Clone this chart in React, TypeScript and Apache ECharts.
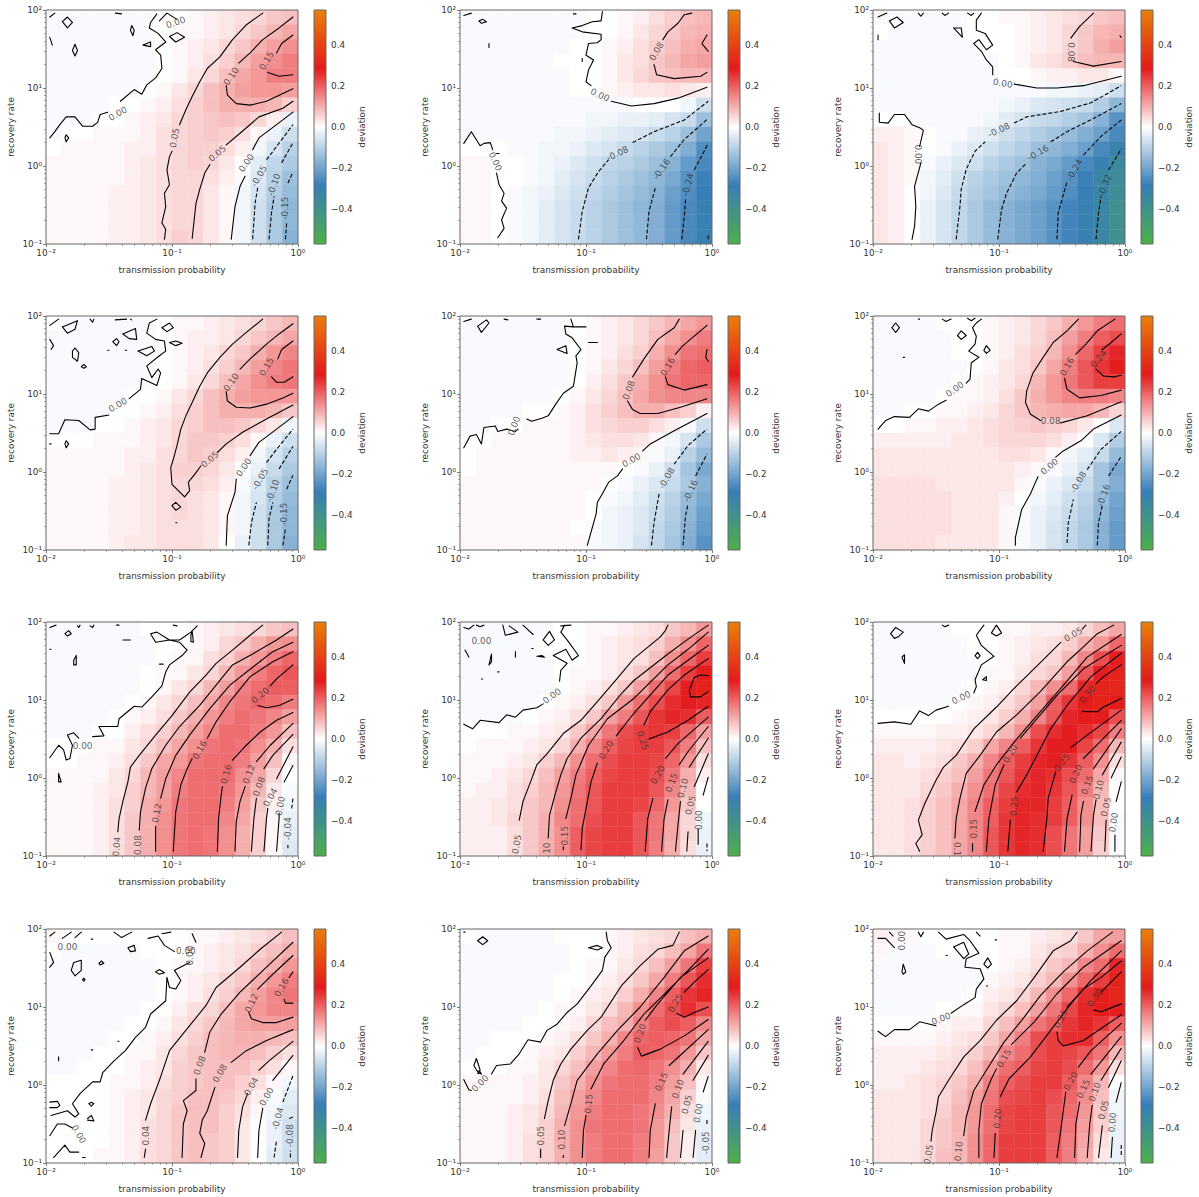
import React, { useEffect, useRef } from "react";
import * as echarts from "echarts";

// Values. Heat values are deviation in hundredths, rows from top (high recovery) to bottom.
// Contours and label anchors are log10(value) x 100 : [log10 p x100, log10 r x100, ...].
const heat1 = [
[-1,-1,-1,-1,-1,-1,-1,0,0,1,2,3,4,5,7,8],[-1,-1,-1,-1,-1,-1,-1,0,1,1,2,3,5,7,9,11],[-1,-1,-1,-1,-1,-1,-1,0,1,2,3,5,7,10,12,14],[-1,-1,-1,-1,-1,-1,-1,0,1,2,4,6,9,12,14,16],
[-1,-1,-1,-1,-1,-1,-1,0,1,3,5,8,11,13,16,16],[-1,-1,-1,-1,-1,-1,0,1,3,5,8,10,12,13,13,12],[-1,-1,-1,-1,0,0,1,2,4,6,8,10,10,10,9,6],[-1,-1,-1,0,0,1,2,3,5,6,7,8,7,5,2,-3],
[-1,0,0,1,1,1,2,4,5,6,7,6,4,1,-3,-7],[0,1,1,1,1,2,2,4,5,6,6,4,2,-2,-6,-10],[1,1,1,1,1,2,3,4,5,6,5,3,0,-4,-9,-12],[1,1,1,1,1,2,3,4,5,5,4,2,-1,-5,-10,-14],
[1,1,1,1,2,2,3,4,5,5,3,1,-2,-6,-11,-15],[1,1,1,1,2,2,3,4,5,5,3,1,-2,-7,-12,-16],[1,1,1,1,2,2,3,4,5,5,3,1,-2,-7,-12,-16],[1,1,1,1,2,2,3,4,6,5,3,1,-2,-7,-12,-17]];
const heat2 = [
[-1,-1,-1,-1,-1,-1,-1,-1,0,0,1,2,4,6,8,9],[-1,-1,-1,-1,-1,-1,-1,-1,0,0,1,3,5,7,9,10],[-1,-1,-1,-1,-1,-1,-1,0,0,1,2,4,6,8,10,11],[-1,-1,-1,-1,-1,-1,0,0,0,1,3,4,7,9,11,12],
[-1,-1,-1,-1,-1,-1,-1,0,0,1,3,5,7,8,9,9],[-1,-1,-1,-1,-1,-1,-1,0,0,1,2,3,3,4,3,2],[-1,-1,-1,-1,-1,-1,-1,-1,-1,-1,-1,0,0,0,-2,-7],[-1,-1,-1,-1,-1,-1,-1,-1,-2,-2,-3,-3,-4,-6,-8,-14],
[-1,-1,-1,-1,-1,-1,-2,-2,-3,-4,-5,-6,-8,-10,-14,-20],[0,0,0,-1,-1,-2,-2,-3,-5,-6,-8,-10,-12,-14,-18,-25],[1,1,0,0,-1,-2,-3,-5,-7,-9,-10,-12,-14,-17,-22,-26],[1,1,0,0,-1,-2,-4,-6,-8,-10,-12,-14,-16,-19,-24,-28],
[1,1,0,-1,-2,-3,-5,-7,-9,-11,-13,-15,-17,-21,-25,-29],[1,1,0,-1,-2,-4,-6,-8,-10,-12,-14,-16,-18,-22,-26,-30],[1,1,0,-1,-2,-4,-6,-8,-10,-12,-14,-16,-18,-22,-26,-30],[1,1,0,-1,-2,-4,-6,-8,-10,-12,-14,-16,-18,-22,-26,-30]];
const heat3 = [
[1,-1,-1,-1,-1,-1,0,0,1,1,2,3,4,5,7,8],[0,-1,-1,-1,-1,-1,0,0,0,1,2,3,5,7,9,10],[-1,-1,-1,-1,-1,-1,-1,0,0,1,2,3,5,7,10,12],[-1,-1,-1,-1,-1,-1,-1,-1,0,1,3,4,6,8,9,9],
[-1,-1,-1,-1,-1,-1,-1,-1,0,0,1,2,2,3,3,1],[-1,-1,-1,-1,-1,-1,-1,-1,-1,-1,-1,-2,-2,-3,-4,-7],[-1,-1,-1,-1,-1,-1,-1,-1,-2,-3,-5,-6,-7,-8,-11,-16],[0,0,-1,-1,-1,-1,-1,-2,-4,-6,-8,-9,-11,-13,-17,-24],
[2,2,1,0,-1,-1,-3,-4,-7,-9,-11,-13,-15,-18,-21,-26],[3,2,1,0,-1,-3,-5,-7,-9,-11,-14,-16,-18,-21,-26,-31],[3,2,1,-1,-3,-5,-7,-10,-12,-14,-17,-19,-22,-26,-30,-35],[3,2,1,-2,-4,-7,-10,-12,-14,-16,-18,-21,-24,-28,-33,-36],
[3,2,0,-2,-5,-8,-11,-13,-15,-17,-19,-22,-25,-29,-33,-37],[3,2,0,-3,-6,-9,-12,-15,-17,-19,-21,-24,-27,-30,-34,-39],[3,2,0,-3,-6,-9,-12,-15,-17,-19,-21,-24,-27,-30,-34,-39],[3,2,0,-3,-6,-9,-12,-15,-17,-19,-21,-24,-27,-30,-34,-39]];
const heat4 = [
[0,-1,-1,-1,-1,-1,-1,0,1,1,2,3,4,5,7,9],[-1,-1,-1,-1,-1,-1,-1,0,1,2,2,3,5,7,9,11],[-1,-1,-1,-1,-1,-1,-1,0,1,2,3,5,7,10,13,15],[-1,-1,-1,-1,-1,-1,-1,0,1,2,4,6,9,12,15,17],
[-1,-1,-1,-1,-1,-1,-1,0,1,3,5,8,11,14,16,17],[-1,-1,-1,-1,-1,0,0,1,3,5,8,10,12,13,13,13],[-1,-1,-1,-1,0,0,1,2,4,6,8,10,10,10,9,7],[-1,-1,-1,0,0,1,2,3,5,6,8,8,7,5,3,-2],
[0,0,0,1,1,1,2,3,5,7,7,6,4,1,-3,-7],[1,1,1,1,1,2,2,4,5,7,6,4,2,-2,-6,-10],[1,1,1,1,1,2,3,4,6,6,5,3,0,-3,-8,-12],[1,1,1,1,2,2,3,4,5,5,4,2,-1,-5,-10,-14],
[1,1,1,1,2,2,3,4,5,4,3,1,-2,-6,-11,-15],[1,1,1,1,2,2,3,4,5,4,3,1,-2,-7,-12,-16],[1,1,1,1,2,2,3,4,4,4,3,1,-2,-7,-12,-16],[1,1,1,1,2,3,3,4,4,4,3,0,-3,-7,-12,-17]];
const heat5 = [
[-1,-1,-1,-1,-1,-1,-1,0,1,2,3,5,7,9,11,13],[-1,-1,-1,-1,-1,-1,-1,0,1,2,3,5,8,11,14,16],[-1,-1,-1,-1,-1,-1,-1,0,1,2,4,6,10,14,17,18],[-1,-1,-1,-1,-1,-1,-1,0,1,3,5,8,12,16,19,20],
[-1,-1,-1,-1,-1,-1,-1,0,2,4,7,10,14,17,19,19],[-1,-1,-1,-1,-1,-1,0,1,3,5,8,11,14,15,15,15],[-1,-1,-1,-1,0,0,1,2,4,6,8,10,10,8,6,2],[-1,-1,0,0,1,1,1,2,4,5,6,6,4,2,-1,-7],
[0,0,1,1,1,1,1,2,3,4,4,3,1,-2,-6,-12],[0,1,1,1,1,1,1,2,2,3,2,1,-1,-3,-10,-15],[0,1,1,1,1,1,1,1,1,1,0,-1,-3,-7,-13,-19],[1,1,1,1,1,1,1,1,1,0,-1,-3,-5,-8,-12,-17],
[1,1,1,1,1,1,1,1,0,-1,-2,-4,-7,-10,-15,-19],[1,1,1,1,1,1,1,1,0,-2,-3,-5,-8,-11,-16,-21],[1,1,1,1,1,1,1,0,-1,-2,-3,-5,-9,-12,-17,-22],[1,1,1,1,1,1,1,1,-1,-2,-3,-6,-9,-13,-18,-24]];
const heat6 = [
[-1,-1,-1,-1,0,0,0,1,2,3,5,7,10,13,16,18],[-1,-1,-1,-1,-1,0,0,1,2,3,5,8,12,16,20,22],[-1,-1,-1,-1,-1,0,0,1,2,4,6,9,14,19,24,27],[-1,-1,-1,-1,-1,-1,0,1,3,4,7,11,16,21,25,28],
[-1,-1,-1,-1,-1,0,1,2,3,5,9,13,17,21,24,24],[-1,-1,-1,-1,0,1,1,2,4,7,10,13,15,16,16,15],[-1,-1,0,0,1,1,2,3,5,7,9,10,11,11,9,5],[0,0,1,1,2,2,3,4,5,6,7,6,5,3,0,-5],
[2,2,2,2,2,3,3,4,5,5,5,4,2,0,-5,-11],[3,3,3,3,3,3,3,3,4,4,3,1,-2,-4,-8,-15],[3,3,3,3,3,3,3,3,3,2,1,-1,-3,-6,-13,-19],[4,4,4,4,3,3,3,3,3,1,-1,-3,-5,-8,-13,-18],
[4,4,4,4,4,3,3,3,2,0,-2,-4,-7,-10,-15,-20],[4,4,4,4,4,3,3,3,1,-1,-3,-5,-8,-11,-16,-21],[4,4,4,4,4,3,3,3,1,-1,-3,-6,-9,-12,-17,-22],[4,4,4,4,3,3,3,3,1,-1,-3,-6,-9,-12,-17,-22]];
const heat7 = [
[-1,-1,-1,-1,-1,-1,0,0,0,1,2,3,4,5,7,8],[-1,-1,-1,-1,-1,-1,-1,0,0,1,2,5,7,10,13,14],[-1,-1,-1,-1,-1,-1,-1,0,1,1,4,6,10,13,16,19],[-1,-1,-1,-1,-1,-1,0,1,1,3,5,9,13,16,19,21],
[-1,-1,-1,-1,-1,-1,0,1,3,5,9,12,16,18,20,20],[-1,-1,-1,-1,-1,0,1,3,5,8,11,15,17,19,18,16],[-1,-1,-1,-1,0,1,2,4,7,10,13,16,18,17,15,12],[-1,-1,-1,0,0,2,4,6,9,12,15,18,18,16,13,8],
[0,0,0,1,1,3,5,8,11,14,17,18,17,14,10,4],[0,0,1,1,2,4,7,11,13,17,18,18,16,12,8,1],[1,1,1,1,3,5,9,12,15,18,18,18,14,11,5,0],[1,1,1,2,3,6,9,12,16,18,18,17,13,9,3,-1],
[1,1,1,2,4,6,10,13,17,18,18,16,12,7,2,-2],[1,1,1,2,4,7,10,14,17,18,18,15,11,6,1,-3],[1,1,1,2,4,7,10,14,17,18,17,14,10,6,1,-4],[1,1,1,2,4,7,10,14,17,18,17,14,10,6,1,-5]];
const heat8 = [
[-1,-1,-1,-1,-1,-1,0,0,1,1,2,3,4,7,9,13],[-1,-1,-1,-1,-1,0,0,0,1,2,3,4,6,10,14,19],[-1,-1,-1,-1,-1,-1,0,0,1,2,3,4,8,14,19,24],[-1,-1,-1,-1,-1,-1,0,1,1,2,4,7,12,18,24,29],
[-1,-1,-1,-1,-1,-1,0,1,2,4,7,12,18,23,28,31],[-1,-1,-1,-1,-1,0,1,2,4,7,13,18,22,26,28,27],[-1,-1,-1,-1,0,1,2,4,7,12,16,21,25,27,26,20],[0,0,0,1,1,2,3,7,11,17,22,24,25,24,19,12],
[0,1,1,1,2,3,5,10,15,20,23,24,24,21,16,8],[1,1,1,2,3,6,9,14,18,22,24,24,23,19,13,4],[1,1,2,3,5,8,12,16,20,23,24,24,22,17,10,2],[1,2,2,4,6,9,13,17,21,24,24,24,21,15,9,0],
[2,2,3,4,7,9,14,18,21,24,24,23,19,13,7,0],[2,2,3,5,7,10,15,18,22,24,24,21,17,11,5,-2],[2,2,2,4,7,10,14,20,23,24,24,21,17,11,5,-3],[2,2,2,4,7,10,14,20,23,24,24,21,16,10,4,-3]];
const heat9 = [
[-1,-1,-1,-1,-1,0,0,0,1,1,2,2,3,5,8,11],[-1,-1,-1,-1,-1,-1,0,0,1,2,3,4,6,10,13,19],[-1,-1,-1,-1,-1,-1,-1,0,1,2,4,5,9,15,22,28],[-1,-1,-1,-1,-1,-1,-1,1,1,3,5,7,12,21,28,31],
[-1,-1,-1,-1,-1,-1,0,1,2,5,9,14,18,27,31,32],[-1,-1,-1,-1,-1,0,1,2,4,7,12,20,25,29,31,29],[0,0,0,0,0,1,2,3,6,10,15,21,27,29,28,22],[1,1,1,1,2,2,3,5,9,14,22,26,28,26,23,16],
[2,2,2,2,3,4,6,11,15,20,25,28,28,23,18,9],[3,3,2,3,4,7,10,15,20,24,27,28,25,20,14,4],[3,3,3,4,6,8,12,17,21,25,27,26,22,18,11,1],[3,3,3,5,7,10,14,18,23,26,27,25,21,16,9,0],
[3,3,4,6,8,11,15,20,24,27,27,24,20,14,8,0],[3,3,4,6,8,11,15,20,25,27,26,24,20,14,8,-1],[3,3,4,6,8,11,15,21,25,27,26,22,17,12,7,-1],[3,3,4,6,8,11,15,21,25,27,26,22,17,12,6,-1]];
const heat10 = [
[1,0,0,0,0,0,0,0,0,1,1,2,3,4,6,8],[0,-1,-1,-1,-1,-1,0,0,0,1,2,3,4,6,8,10],[-1,-1,-1,-1,-1,-1,-1,0,1,1,2,3,5,8,10,13],[-1,-1,-1,-1,-1,-1,-1,0,1,2,3,5,7,10,13,16],
[-1,-1,-1,-1,-1,-1,-1,0,1,2,4,6,9,12,15,17],[-1,-1,-1,-1,-1,-1,0,0,2,4,5,8,11,13,15,15],[-1,-1,-1,-1,-1,0,0,1,3,5,7,9,11,12,12,12],[-1,-1,-1,-1,0,0,1,2,4,6,8,9,10,10,9,8],
[-1,-1,-1,0,0,1,1,3,5,7,8,9,9,8,6,4],[-1,-1,0,0,0,1,2,3,6,7,8,8,8,6,4,1],[0,0,0,0,1,1,2,4,6,7,8,8,6,4,1,-2],[0,0,0,0,1,2,3,5,6,8,8,7,5,2,-1,-4],
[0,0,0,0,1,2,3,5,7,8,8,6,4,1,-2,-5],[0,0,0,0,1,2,4,5,7,8,8,6,3,0,-3,-7],[0,0,0,0,1,2,4,5,7,8,7,6,3,0,-3,-7],[0,0,0,1,1,2,4,5,7,8,7,6,3,0,-4,-7]];
const heat11 = [
[0,-1,-1,-1,-1,-1,0,0,0,1,2,3,4,5,8,10],[-1,-1,-1,-1,-1,-1,-1,0,0,1,2,4,5,8,11,17],[-1,-1,-1,-1,-1,-1,-1,0,1,1,3,5,8,12,17,24],[-1,-1,-1,-1,-1,-1,0,0,1,2,4,7,11,16,21,26],
[-1,-1,-1,-1,-1,-1,0,1,2,3,6,10,15,20,25,27],[-1,-1,-1,-1,-1,0,1,1,3,5,9,14,18,22,26,22],[-1,-1,-1,-1,0,0,1,2,5,8,10,16,20,22,20,15],[-1,-1,0,0,0,1,2,4,7,10,15,19,20,19,17,11],
[-1,0,0,0,1,2,3,6,9,13,16,20,19,17,13,7],[0,0,0,1,1,3,5,8,12,15,18,19,17,14,10,3],[1,1,1,1,2,3,7,10,14,17,18,18,16,12,8,1],[1,1,1,1,2,4,8,12,15,18,18,18,15,11,6,-1],
[1,1,1,2,3,5,9,13,16,18,18,17,14,10,4,-2],[1,1,1,2,3,6,10,14,17,18,18,17,13,8,3,-3],[1,1,1,2,4,6,10,14,16,18,18,16,13,7,2,-4],[1,1,1,2,4,6,10,14,16,18,18,16,12,7,2,-4]];
const heat12 = [
[2,1,1,0,0,0,0,0,1,1,2,3,4,7,11,12],[1,-1,-1,-1,0,0,0,0,1,1,3,5,6,10,14,18],[-1,-1,-1,-1,-1,-1,-1,0,1,2,4,7,9,15,18,27],[-1,-1,-1,-1,-1,-1,-1,1,2,3,6,9,14,19,24,31],
[-1,-1,-1,-1,-1,-1,0,2,3,5,9,14,19,26,30,32],[-1,-1,-1,-1,0,1,1,3,5,8,12,17,23,27,30,28],[0,0,0,0,1,2,2,5,8,12,17,20,25,27,25,20],[1,1,1,1,2,3,4,7,11,16,22,24,26,26,20,14],
[2,2,2,2,3,4,6,9,15,18,22,24,23,21,17,9],[2,2,2,3,4,5,8,13,18,20,23,24,22,18,13,4],[2,2,3,4,5,7,10,16,20,22,24,24,20,15,9,0],[3,3,3,4,5,8,12,17,22,23,24,22,19,14,8,-2],
[3,3,3,4,6,9,13,18,23,24,24,21,18,13,7,-2],[3,3,3,5,7,9,13,18,23,24,24,21,17,12,6,-3],[3,3,3,5,7,9,14,19,24,24,24,20,16,11,4,-3],[3,3,3,5,8,9,14,19,24,24,24,20,16,10,3,-3]];

const solid1 = [
[-197,36,-193,44,-189,53,-184,63,-177,63,-171,51,-163,51,-159,56,-157,66,-151,69],
[-141,83,-130,98,-124,92,-120,104,-113,113,-108,125,-109,142,-113,149,-105,159,-111,170,-118,177,-117,184,-112,195],
[-110,186,-104,196,-96,188],[-102,166,-96,171,-90,165,-97,159,-102,166],[-187,185,-183,191,-179,184,-183,177,-187,185],
[-197,191,-193,196],[-145,196,-140,195],[-197,165,-195,155],[-132,180,-130,174,-131,167,-133,174,-132,180],[-123,155,-117,159,-117,153,-123,155],
[-177,156,-175,148,-177,141,-179,148,-177,156],[-184,40,-182,36,-184,31,-185,36,-184,40],
[-106,-94,-105,-81,-108,-73,-105,-52,-106,-35,-102,-24,-104,-5,-102,12,-100,19],[-94,53,-89,72,-84,89,-78,108,-72,125,-62,140,-52,162,-41,181,-28,196],
[-84,-93,-81,-48,-78,-30,-74,-9,-70,2],[-57,27,-46,42,-31,63,-12,74,-4,83],
[-57,103,-56,91,-49,80,-38,78,-25,83,-12,93,-4,99],[-47,132,-38,145,-28,162,-15,177,-4,191],
[-17,145,-13,157,-4,168],[-24,120,-15,115,-4,117],[-53,-94,-50,-52,-46,-26,-42,-13],[-36,21,-31,36,-17,53,-4,69]];
const dashed1 = [[-36,-94,-34,-47,-32,-28],[-25,8,-17,25,-4,53],[-23,-94,-21,-60,-19,-39],[-13,4,-4,30],[-10,-94,-9,-73],[-8,-22,-4,-8]];
const labels1 = [[-143,67,30,"0.00"],[-97,184,18,"0.00"],[-98,36,80,"0.05"],[-64,16,40,"0.05"],[-53,115,55,"0.10"],[-25,135,60,"0.15"],[-41,4,55,"0.00"],[-31,-13,60,"-0.05"],[-19,-24,70,"-0.10"],[-10,-54,90,"-0.15"]];

const solid2 = [
[-197,29,-191,44,-184,26,-181,29,-176,30,-174,21],[-171,-9,-169,-24,-165,-35,-167,-45,-163,-54,-167,-69,-165,-80,-170,-92],[-171,16,-169,16],
[-197,193,-191,196],[-185,186,-182,188,-179,185,-183,183,-185,186],[-177,157,-177,152],[-110,195,-108,195],[-103,138,-103,134],
[-87,198,-88,186,-95,185,-103,180,-111,177,-103,172,-88,169,-88,162,-91,158,-98,157,-100,142,-94,136,-98,123,-100,108,-96,103],
[-80,83,-64,77,-46,80,-27,87,-4,101],[-46,130,-44,117,-30,112,-9,115,-4,120],[-39,162,-35,172,-27,183,-22,194,-16,196],[-4,168,-8,157,-3,147]];
const dashed2 = [[-106,-94,-103,-58,-98,-28,-90,-7,-82,8],[-63,30,-46,44,-22,59,-3,83],[-52,-94,-50,-58,-45,-28],[-33,12,-22,34,-3,61],[-24,-94,-22,-65,-21,-43],[-14,-5,-3,29],[-3,-89,-3,-94]];
const labels2 = [[-172,6,-65,"0.00"],[-89,91,-25,"0.00"],[-44,147,60,"0.08"],[-75,16,25,"-0.08"],[-40,-4,55,"-0.16"],[-19,-24,75,"-0.24"]];

const solid3 = [
[-196,191,-189,196],[-187,186,-181,191,-176,184,-183,177,-187,186],[-164,196,-162,192,-160,196],[-145,196,-143,193,-140,196],[-125,196,-122,193,-120,196],[-196,168,-196,162],[-136,177,-130,177,-129,165,-136,177],
[-114,196,-118,187,-118,174,-111,170,-105,155,-110,149,-116,162,-120,157,-114,147,-110,136,-105,127,-105,117],
[-88,105,-70,100,-54,100,-33,103,-3,115],
[-195,68,-195,56,-188,55,-183,66,-175,66,-169,53,-163,49,-160,46,-163,25],[-162,4,-167,-26,-166,-52,-167,-77,-169,-94],
[-43,164,-36,179,-25,196],[-41,134,-25,128,-3,134],[-4,167,-3,165]];
const dashed3 = [[-134,-94,-131,-52,-130,-30,-126,-4,-119,19,-111,31],[-88,55,-78,63,-51,70,-27,81,-3,103],[-101,-94,-98,-56,-94,-35,-86,-9,-78,4],[-59,31,-46,44,-25,61,-3,80],[-54,-94,-53,-60,-49,-37,-46,-20],[-33,14,-19,38,-3,59],[-23,-94,-21,-60,-19,-39],[-13,-5,-3,22]];
const labels3 = [[-97,106,-10,"0.00"],[-164,15,-90,"0.00"],[-43,146,-90,"0.08"],[-100,46,25,"-0.08"],[-69,17,30,"-0.16"],[-40,-5,60,"-0.24"],[-16,-25,70,"-0.32"]];

const solid4 = [
[-197,188,-190,196],[-187,186,-175,194,-177,183,-183,178,-187,186],[-165,196,-163,192,-162,196],[-145,195,-136,196],[-133,196,-132,195],
[-108,185,-102,191,-99,185,-104,180,-108,185],[-139,177,-129,184,-128,170,-134,171,-139,177],[-147,167,-144,171,-142,167,-144,162,-147,167],[-102,166,-97,168,-92,165,-97,162,-102,166],[-197,170,-194,162,-196,157],
[-177,159,-174,153,-175,142,-179,147,-179,155,-177,159],[-172,135,-170,138,-168,135,-170,133,-172,135],[-127,155,-116,161,-114,155,-120,149,-127,155],[-151,156,-150,156],[-137,156,-136,156],[-184,40,-182,36,-184,31,-185,36,-184,40],[-197,36,-196,36],
[-197,49,-190,49,-185,67,-174,66,-165,54,-161,55,-161,70,-150,73],
[-134,94,-125,106,-124,120,-112,111,-109,127,-111,132,-116,121,-120,136,-110,149,-105,155,-106,168,-113,170,-120,178,-118,191,-112,196],
[-4,86,-25,68,-44,51,-57,36,-64,25],[-77,8,-82,-3,-87,-13,-86,-24,-90,-32,-100,-16,-101,6,-99,16,-96,34,-93,55,-89,72,-84,89,-78,110,-72,127,-62,147,-52,164,-41,179,-28,196],
[-100,-43,-97,-39,-93,-45,-97,-49,-100,-43],[-97,-65,-96,-65],
[-57,103,-56,91,-49,83,-38,82,-25,87,-12,95,-4,101],[-46,132,-38,145,-25,164,-15,177,-4,190],[-16,145,-13,157,-4,168],[-21,122,-17,115,-11,115,-4,122],
[-57,-94,-56,-56,-50,-26,-49,-9],[-38,21,-31,38,-17,55,-4,71]];
const dashed4 = [[-39,-94,-37,-65,-33,-39],[-25,12,-17,29,-4,55],[-24,-94,-23,-60,-20,-39],[-15,4,-4,33],[-12,-94,-10,-73],[-9,-22,-4,-4]];
const labels4 = [[-143,86,30,"0.00"],[-70,16,40,"0.05"],[-53,115,55,"0.10"],[-25,135,60,"0.15"],[-43,6,55,"0.00"],[-30,-9,60,"-0.05"],[-20,-24,70,"-0.10"],[-11,-54,90,"-0.15"]];

const solid5 = [
[-197,193,-191,196],[-186,187,-179,195,-177,191,-183,179,-186,187],[-165,196,-162,195],[-139,196,-136,196],
[-197,31,-192,46,-187,48,-183,36,-181,57,-172,59,-170,52,-163,55,-156,52,-154,55],
[-147,68,-143,65,-135,69,-130,72,-124,87,-118,101,-110,110,-107,140,-108,149,-104,157,-111,172,-116,177,-117,187,-110,186,-100,186],
[-112,196,-110,186],[-98,166,-91,166],[-123,157,-116,162,-115,152,-123,157],
[-99,-94,-96,-77,-92,-54,-91,-39,-87,-28,-82,-13,-75,-5,-71,4],[-55,27,-49,36,-30,53,-4,75],
[-67,91,-63,80,-57,75,-43,75,-25,83,-4,94],[-63,122,-54,145,-43,170,-30,185,-26,196],[-29,151,-23,162,-4,188],[-37,122,-35,112,-22,105,-4,112],[-4,157,-5,147,-3,142]];
const dashed5 = [[-48,-94,-46,-65,-42,-28],[-30,10,-19,34,-4,55],[-23,-94,-21,-56,-19,-41],[-13,-5,-4,23]];
const labels5 = [[-157,59,70,"0.00"],[-64,15,30,"0.00"],[-66,105,70,"0.08"],[-35,135,60,"0.16"],[-36,-8,60,"-0.08"],[-17,-24,65,"-0.16"]];

const solid6 = [
[-185,185,-182,191,-179,185,-182,179,-185,185],[-164,196,-163,196],[-145,196,-142,193,-138,196],[-125,197,-122,194,-119,197],[-133,175,-130,181,-126,175,-130,170,-133,175],[-112,156,-110,162,-107,156,-110,152,-112,156],[-176,147,-175,147],
[-196,55,-190,66,-183,71,-171,70,-164,81,-156,78,-148,87,-142,92],[-126,114,-123,119,-122,140,-116,147,-124,155,-119,164,-118,174,-121,185,-118,191,-114,196],
[-87,-94,-87,-84,-82,-48,-75,-28,-71,-13,-69,-6],[-55,19,-49,27,-35,40,-25,55,-3,73],
[-67,66,-75,74,-79,89,-78,104,-73,127,-65,147,-57,166,-46,181,-37,196],[-51,63,-30,72,-3,90],
[-48,120,-46,106,-36,95,-19,98,-3,105],[-39,151,-31,164,-22,181,-8,196],[-23,132,-17,123,-9,122,-3,124],[-18,157,-11,166,-3,177]];
const dashed6 = [[-46,-91,-45,-65,-41,-35],[-30,3,-19,29,-3,52],[-22,-94,-21,-65,-18,-43],[-13,-5,-3,20]];
const labels6 = [[-135,106,35,"0.00"],[-60,7,40,"0.00"],[-59,66,0,"0.08"],[-46,135,60,"0.16"],[-21,145,50,"0.24"],[-37,-13,60,"-0.08"],[-17,-30,70,"-0.16"]];

const solid7 = [
[-197,193,-192,196],[-175,195,-174,193,-173,196],[-165,195,-163,193,-162,196],[-144,196,-142,196],[-99,196,-96,195],[-185,185,-182,189,-180,185,-183,182,-185,185],[-139,177,-133,177],[-197,165,-196,165],[-178,151,-176,157,-176,145,-178,145,-178,151],[-110,146,-107,146],[-190,-5,-190,6,-188,-5,-190,-5],
[-197,26,-190,42,-186,36,-184,23,-181,25,-179,42,-183,55,-178,58,-174,51],
[-163,53,-154,54,-158,66,-143,66,-142,76,-130,92,-124,91,-116,104,-108,118,-105,136,-102,145,-92,157,-88,164,-94,174,-102,177,-113,174,-117,185,-112,187,-102,177,-94,177,-85,187,-80,195],
[-85,183,-84,188,-83,174,-85,175,-85,183],
[-143,-69,-142,-52,-139,-30,-135,-5,-133,14,-126,29,-113,55,-100,80,-86,110,-73,132,-65,147,-52,164,-38,183,-28,196],
[-126,-67,-125,-43,-121,-13,-116,12,-105,42,-94,66,-78,93,-65,119,-52,145,-36,159,-17,177,-4,191],
[-113,-94,-113,-62],[-109,-26,-105,-1,-97,29,-86,55,-70,89,-54,119,-36,142,-20,162,-4,174],
[-99,-94,-97,-43,-93,-9,-88,12,-84,25],[-72,51,-65,72,-54,98,-38,130,-20,149,-4,162],
[-64,-94,-63,-52,-61,-22,-60,-11],[-52,23,-41,42,-30,59,-17,74,-4,84],
[-50,-94,-49,-56,-46,-30,-42,-11],[-33,21,-22,42,-4,70],[-37,-94,-35,-52,-33,-26],[-27,12,-20,29,-4,56],[-27,-94,-25,-52,-24,-39],[-17,-1,-4,40],[-17,-94,-15,-52,-15,-45],[-11,-5,-4,16],
[-32,93,-25,90,-15,93,-4,101],[-22,118,-17,127,-4,145]];
const dashed7 = [[-8,-90,-8,-86],[-5,-39,-4,-26]];
const labels7 = [[-171,41,0,"0.00"],[-144,-88,85,"0.04"],[-127,-86,90,"0.08"],[-112,-45,80,"0.12"],[-78,36,60,"0.16"],[-57,5,75,"0.16"],[-39,5,70,"0.12"],[-31,-11,70,"0.08"],[-22,-25,60,"0.04"],[-14,-36,80,"0.00"],[-8,-65,90,"-0.04"],[-30,106,40,"0.20"]];

const solid8 = [
[-197,193,-193,191,-189,196],[-187,196,-184,194,-181,196],[-166,196,-164,183,-154,187,-161,195],[-150,196,-142,184],[-120,195,-112,196],[-134,177,-129,188,-125,177,-130,170,-134,177],[-196,164,-193,155],
[-177,145,-175,159,-175,149,-177,145],[-156,162,-156,155],[-143,166,-142,166],[-139,156,-135,157,-133,155,-139,156],[-170,136,-169,136],[-183,127,-182,127],
[-197,69,-190,63,-184,74,-169,71,-163,81,-156,78,-150,87,-139,90,-134,95],[-121,124,-120,138,-115,147,-126,157,-116,165,-111,151,-106,157,-115,177,-120,187,-117,196],
[-153,-54,-150,-30,-144,-5,-139,17,-131,31,-118,57,-104,74,-91,98,-75,128,-62,153,-41,181,-37,189,-35,196],
[-130,-77,-129,-48,-124,-18,-120,4,-115,25,-104,51,-88,76,-72,108,-62,125,-35,159,-19,178,-3,196],
[-116,-52,-112,-26,-108,4,-98,42,-83,76,-62,102,-35,145,-19,165,-3,187],[-118,-92,-118,-88],
[-104,-92,-103,-65,-96,-5,-91,19],[-76,54,-62,83,-35,132,-19,151,-3,170],
[-50,50,-35,59,-19,74,-3,92],[-54,68,-49,85,-35,113,-22,132,-3,153],[-3,131,-9,132,-14,129,-18,113,-17,104,-9,104,-3,111],
[-53,-94,-51,-52,-47,-26],[-37,25,-27,44,-3,78],[-40,-94,-38,-52,-35,-28],[-26,17,-19,34,-3,66],[-29,-94,-27,-60,-25,-30],[-18,14,-3,51],[-20,-94,-19,-69],[-14,-11,-3,31],[-11,-85,-11,-65],[-7,-22,-3,1]];
const dashed8 = [[-4,-84,-4,-94]];
const labels8 = [[-183,176,0,"0.00"],[-127,105,35,"0.00"],[-155,-85,80,"0.05"],[-131,-90,90,"10"],[-117,-74,90,"0.15"],[-84,36,60,"0.20"],[-55,48,-70,"0.25"],[-43,4,60,"0.20"],[-32,-6,70,"0.15"],[-23,-13,75,"0.10"],[-17,-35,75,"0.05"],[-10,-54,90,"0.00"]];

const solid9 = [
[-186,185,-182,193,-176,187,-180,181,-183,179,-186,185],[-145,196,-143,194,-140,196],[-106,186,-102,196,-98,186,-102,182,-106,186],[-119,157,-117,161,-115,157,-117,153,-119,157],[-177,155,-175,158,-175,147,-177,155],[-113,126,-110,130,-110,125,-113,126],
[-196,70,-183,72,-170,69,-163,86,-156,80,-150,87,-140,92],[-120,109,-118,117,-119,126,-114,145,-104,156,-114,170,-118,183,-112,196],
[-163,-94,-166,-84,-161,-73,-164,-54,-159,-33,-150,-3,-144,14,-134,29,-120,63,-102,91,-88,115,-69,145,-51,174],[-34,191,-31,196],
[-135,-77,-134,-52,-131,-26,-126,6,-115,29,-102,59,-86,81,-67,111,-46,149,-33,168,-22,185,-9,196],
[-121,-94,-121,-84],[-119,-43,-112,-9,-102,17,-88,46,-72,76,-51,115,-30,155,-3,184],
[-110,-94,-108,-52,-103,-9,-96,17],[-83,51,-72,72,-54,106,-33,140,-3,170],
[-93,-94,-91,-54],[-86,-18,-78,4,-70,29,-59,63,-46,93,-27,130,-3,160],
[-34,86,-30,85,-22,85,-17,91,-3,102],[-23,121,-17,130,-3,145],
[-65,-94,-62,-52,-61,-26,-55,8],[-43,39,-30,55,-3,87],[-48,-94,-46,-52,-42,-22],[-33,25,-25,38,-3,74],[-36,-94,-35,-48,-33,-30],[-25,12,-3,63],[-27,-94,-25,-48,-23,-28],[-18,4,-3,46],[-16,-94,-15,-54],[-11,0,-3,27],[-8,-94,-8,-73],[-7,-30,-3,-5]];
const dashed9: number[][] = [];
const labels9 = [[-130,103,25,"0.00"],[-41,184,30,"0.05"],[-133,-91,-90,"0.1"],[-120,-65,90,"0.15"],[-91,31,60,"0.20"],[-88,-36,85,"0.25"],[-30,107,50,"0.30"],[-50,20,50,"0.25"],[-39,5,65,"0.20"],[-30,-9,70,"0.15"],[-21,-15,75,"0.10"],[-15,-37,75,"0.05"],[-9,-57,80,"0.00"]];

const solid10 = [
[-197,191,-193,196],[-187,188,-180,196],[-177,189,-172,196],[-146,196,-140,189,-132,196],[-164,187,-163,187],[-135,176,-130,179,-129,172,-133,171,-135,176],[-108,194,-101,196],[-84,194,-81,183],
[-119,188,-111,191,-106,179,-98,171],[-180,147,-178,157,-172,160,-172,147,-177,140,-180,147],[-197,170,-194,157,-197,151],
[-158,156,-156,159,-154,156,-157,154,-158,156],[-113,145,-110,148,-106,144,-110,142,-113,145],[-171,135,-170,137,-169,135,-170,133,-171,135],[-143,56,-142,56],[-164,45,-163,45],[-190,36,-190,31],
[-196,-39,-183,-33,-177,-41,-174,-37,-179,-24,-173,-11,-163,4,-157,4,-155,16,-146,31,-137,44,-129,61,-121,74,-117,91,-105,108,-104,138,-102,125,-97,123,-93,134,-98,147,-86,157],
[-197,-22,-191,-21,-189,-26,-191,-29,-197,-29],[-166,-24,-164,-22,-162,-24,-164,-27,-166,-24],[-167,-43,-164,-39,-162,-46,-167,-45],
[-197,-65,-191,-50,-185,-50,-179,-55],[-194,-93,-185,-77,-181,-86,-174,-86],[-171,-93,-169,-93],
[-122,-93,-121,-82],[-121,-45,-117,-24,-110,6,-102,44,-86,76,-73,102,-65,125,-46,151,-30,174,-13,196],
[-92,-93,-91,-50,-88,-33,-91,-20,-81,-7,-81,8],[-74,42,-70,68,-61,91,-46,119,-25,151,-4,183],
[-77,-93,-74,-75,-78,-62,-76,-45,-72,-33,-66,-3],[-53,29,-41,44,-25,57,-4,71],
[-48,-93,-47,-58,-44,-28,-40,-11],[-31,19,-23,31,-4,56],[-32,-93,-31,-58,-28,-30],[-20,6,-4,38],
[-39,93,-37,85,-28,80,-17,80,-4,87],[-32,123,-20,142,-4,166],[-11,110,-10,105,-4,105],[-7,138,-4,145]];
const dashed10 = [[-19,-93,-17,-71],[-12,-22,-4,12],[-6,-93,-6,-84],[-7,-43,-4,-41]];
const labels10 = [[-183,177,0,"0.00"],[-89,172,0,"0.00"],[-86,166,90,"0.00"],[-174,-63,-60,"0.00"],[-121,-65,90,"0.04"],[-78,25,70,"0.08"],[-62,15,60,"0.08"],[-37,-2,60,"0.04"],[-25,-15,60,"0.00"],[-16,-43,75,"-0.04"],[-6,-65,90,"-0.08"],[-37,105,65,"0.12"],[-13,125,60,"0.16"]];

const solid11 = [
[-197,196,-196,196],[-186,185,-182,190,-178,185,-182,180,-186,185],[-98,176,-91,179,-87,176,-91,173,-98,176],
[-84,196,-83,185,-80,176,-85,164,-87,147,-96,127,-107,104,-115,93,-123,78,-131,70,-136,55,-146,58,-153,40,-160,27,-171,25,-175,14],
[-197,7,-193,-6,-191,-7],[-189,25,-187,34,-184,19,-186,17,-189,25],[-186,15,-184,17,-183,14,-186,15],
[-136,-93,-136,-82],[-133,-43,-130,-20,-126,6,-120,27,-112,46,-99,70,-88,87,-72,127,-57,153,-43,174,-31,179,-26,196],
[-118,-93,-118,-90],[-117,-52,-112,-24,-107,6,-91,40,-75,70,-57,100,-38,138,-22,172,-3,191],
[-103,-93,-102,-58,-100,-39],[-96,-5,-86,27,-70,57,-54,91,-35,121,-19,147,-3,174],
[-59,48,-56,37,-41,46,-22,63,-3,84],[-53,83,-43,104,-25,138,-3,163],
[-28,92,-22,87,-14,93,-3,100],[-22,119,-14,132,-3,148],
[-50,-93,-49,-58,-45,-24],[-34,25,-3,71],[-36,-93,-34,-58,-32,-28],[-23,14,-3,56],[-25,-93,-23,-58],[-15,6,-3,38],[-15,-93,-13,-58],[-7,-9,-3,11]];
const dashed11 = [[-4,-45,-4,-50]];
const labels11 = [[-184,2,45,"0.00"],[-136,-65,90,"0.05"],[-119,-70,90,"0.10"],[-98,-24,85,"0.15"],[-57,66,70,"0.20"],[-29,105,60,"0.25"],[-40,4,65,"0.15"],[-27,-5,70,"0.10"],[-20,-25,75,"0.05"],[-11,-36,80,"0.00"],[-5,-74,90,"-0.05"]];

const solid12 = [
[-196,188,-190,188,-183,176],[-187,196,-184,191],[-164,196,-162,190,-160,196],[-118,196,-115,191],[-103,186,-102,186],
[-148,196,-142,187,-128,193,-123,185,-116,169,-126,162,-127,151,-115,149,-112,136,-118,123,-119,112,-128,103,-138,92],
[-150,76,-163,81,-171,71,-183,71,-190,62,-196,69],
[-136,177,-128,183,-124,168,-128,162,-136,177],[-112,155,-109,163,-106,155,-109,150,-112,155],[-142,166,-141,166],[-177,145,-176,155,-174,145,-176,142,-177,145],[-110,127,-109,127],
[-154,-72,-153,-58,-150,-35,-148,-15,-140,6,-128,36,-115,57,-102,83,-86,108,-72,138,-57,172,-43,185,-38,196],
[-128,-65,-126,-41,-120,-7,-110,19,-96,55,-80,87,-67,115,-49,145,-30,172,-10,196],
[-116,-93,-116,-58,-114,-24,-106,8,-102,21],[-90,52,-72,81,-54,117,-33,151,-3,185],
[-104,-93,-103,-62],[-99,-15,-92,8,-75,36,-59,70,-43,104,-27,134,-3,172],
[-54,68,-53,57,-49,50,-33,57,-3,90],[-46,100,-33,123,-19,138,-3,159],
[-25,96,-19,94,-3,104],[-19,119,-14,127,-3,145],
[-54,-93,-51,-58,-47,-9],[-37,23,-27,44,-3,79],[-40,-93,-39,-50,-36,-22],[-27,14,-3,62],[-30,-93,-28,-50,-26,-26],[-19,6,-3,47],[-21,-93,-18,-52],[-13,-3,-3,31],[-11,-93,-10,-67],[-7,-22,-3,3]];
const dashed12 = [[-3,-77,-3,-92]];
const labels12 = [[-177,185,90,"0.00"],[-146,85,20,"0.00"],[-156,-89,80,"0.05"],[-132,-85,85,"0.10"],[-96,34,60,"0.15"],[-101,-43,85,"0.20"],[-51,85,65,"0.25"],[-24,112,55,"0.30"],[-43,5,60,"0.20"],[-33,-5,65,"0.15"],[-24,-9,70,"0.10"],[-17,-32,75,"0.05"],[-10,-48,85,"0.00"]];

const heats = [heat1, heat2, heat3, heat4, heat5, heat6, heat7, heat8, heat9, heat10, heat11, heat12];
const solids = [solid1, solid2, solid3, solid4, solid5, solid6, solid7, solid8, solid9, solid10, solid11, solid12];
const dasheds = [dashed1, dashed2, dashed3, dashed4, dashed5, dashed6, dashed7, dashed8, dashed9, dashed10, dashed11, dashed12];
const labelSets = [labels1, labels2, labels3, labels4, labels5, labels6, labels7, labels8, labels9, labels10, labels11, labels12];

const xMinorTicks = [0.02, 0.03, 0.04, 0.05, 0.06, 0.07, 0.08, 0.09, 0.2, 0.3, 0.4, 0.5, 0.6, 0.7, 0.8, 0.9];
const yMinorTicks = [0.2, 0.3, 0.4, 0.5, 0.6, 0.7, 0.8, 0.9, 2, 3, 4, 5, 6, 7, 8, 9, 20, 30, 40, 50, 60, 70, 80, 90];
const colorbarTicks = [-0.4, -0.2, 0, 0.2, 0.4];
const colorMax = 0.57;
const colorStops: [number, number[]][] = [[-0.57, [77, 175, 74]], [-0.285, [55, 126, 184]], [0, [255, 255, 255]], [0.285, [228, 26, 28]], [0.57, [232, 128, 10]]];

const FONT = "DejaVu Sans";
const FS = 8.9;
const TXT = "#333";
const EDGE = "#666";
const lefts = [46, 460, 873];
const tops = [10, 316, 622, 929];
const SUP: Record<string, string> = { "-2": "10⁻²", "-1": "10⁻¹", "0": "10⁰", "1": "10¹", "2": "10²" };

function colorOf(v: number) {
  const t = Math.max(-0.57, Math.min(0.57, v));
  for (let i = 0; i < colorStops.length - 1; i++) {
    const [a, ca] = colorStops[i];
    const [b, cb] = colorStops[i + 1];
    if (t <= b) {
      const f = (t - a) / (b - a);
      return `rgb(${ca.map((c, k) => Math.round(c + (cb[k] - c) * f)).join(",")})`;
    }
  }
  return "rgb(232,128,10)";
}
const dec = (c: number) => Math.pow(10, c / 100);
const logLabel = (v: number) => SUP[String(Math.round(Math.log10(v)))] ?? "";

function polyData(lines: number[][]) {
  const out: number[][] = [];
  for (const l of lines) {
    for (let i = 0; i + 1 < l.length; i += 2) out.push([dec(l[i]), dec(l[i + 1])]);
    out.push([NaN, NaN]);
  }
  return out;
}

function buildOption() {
  const grid: any[] = [], xAxis: any[] = [], yAxis: any[] = [], series: any[] = [];
  const text = { fontFamily: FONT, fontSize: FS, color: TXT };
  heats.forEach((heat, p) => {
    const left = lefts[p % 3];
    const top = tops[Math.floor(p / 3)];
    const g = grid.length;
    grid.push({ left, top, width: 252, height: 234 });
    const xi = xAxis.length, yi = yAxis.length;
    xAxis.push({
      gridIndex: g, type: "log", logBase: 10, min: 0.01, max: 1, position: "bottom",
      name: "transmission probability", nameLocation: "middle", nameGap: 21, nameTextStyle: text,
      axisLine: { show: false }, splitLine: { show: false },
      axisTick: { length: 3, lineStyle: { color: "#444", width: 0.7 } },
      axisLabel: { ...text, margin: 4, formatter: logLabel, showMinLabel: true, showMaxLabel: true },
    });
    yAxis.push({
      gridIndex: g, type: "log", logBase: 10, min: 0.1, max: 100, position: "left",
      name: "recovery rate", nameLocation: "middle", nameGap: 31, nameRotate: 90, nameTextStyle: text,
      axisLine: { show: false }, splitLine: { show: false },
      axisTick: { length: 3, lineStyle: { color: "#444", width: 0.7 } },
      axisLabel: { ...text, margin: 4, formatter: logLabel, showMinLabel: true, showMaxLabel: true },
    });
    xAxis.push({
      gridIndex: g, type: "log", logBase: 10, min: 0.01, max: 1, position: "bottom",
      axisLine: { show: false }, splitLine: { show: false }, axisLabel: { show: false },
      axisTick: { show: true, length: 2, customValues: xMinorTicks, lineStyle: { color: "#555", width: 0.5 } },
    });
    yAxis.push({
      gridIndex: g, type: "log", logBase: 10, min: 0.1, max: 100, position: "left",
      axisLine: { show: false }, splitLine: { show: false }, axisLabel: { show: false },
      axisTick: { show: true, length: 2, customValues: yMinorTicks, lineStyle: { color: "#555", width: 0.5 } },
    });

    const n = heat.length, m = heat[0].length;
    const cells: number[][] = [];
    heat.forEach((row, j) =>
      row.forEach((v, i) => {
        cells.push([
          dec(-200 + (i * 200) / m), dec(200 - ((j + 1) * 300) / n),
          dec(-200 + ((i + 1) * 200) / m), dec(200 - (j * 300) / n), v / 100,
        ]);
      })
    );
    series.push({
      type: "custom", xAxisIndex: xi, yAxisIndex: yi, silent: true, clip: true, z: 1, data: cells,
      renderItem: (_: any, api: any) => {
        const a = api.coord([api.value(0), api.value(1)]);
        const b = api.coord([api.value(2), api.value(3)]);
        const c = colorOf(api.value(4));
        return { type: "rect", shape: { x: a[0], y: b[1], width: b[0] - a[0], height: a[1] - b[1] }, style: { fill: c, stroke: c, lineWidth: 0.5 } };
      },
    });
    const common = { type: "line", xAxisIndex: xi, yAxisIndex: yi, symbol: "none", silent: true, clip: true, connectNulls: false, z: 3 };
    series.push({ ...common, data: polyData(solids[p]), lineStyle: { color: "#000", width: 1.1, cap: "round", join: "round" } });
    if (dasheds[p].length) series.push({ ...common, data: polyData(dasheds[p]), lineStyle: { color: "#000", width: 1.1, type: [4, 2] } });
    series.push({
      type: "scatter", xAxisIndex: xi, yAxisIndex: yi, symbolSize: 0, silent: true, z: 4,
      data: (labelSets[p] as any[]).map((l) => ({
        value: [dec(l[0]), dec(l[1])],
        label: { show: true, position: "inside", formatter: l[3], rotate: l[2], ...text, align: "center", verticalAlign: "middle" },
      })),
    });
    series.push({
      type: "custom", xAxisIndex: xi, yAxisIndex: yi, silent: true, clip: false, z: 5, data: [[0.01, 0.1, 1, 100]],
      renderItem: (_: any, api: any) => {
        const a = api.coord([api.value(0), api.value(1)]);
        const b = api.coord([api.value(2), api.value(3)]);
        return { type: "rect", shape: { x: a[0], y: b[1], width: b[0] - a[0], height: a[1] - b[1] }, style: { fill: "none", stroke: EDGE, lineWidth: 1 } };
      },
    });

    // colour bar
    const cg = grid.length;
    grid.push({ left: left + 268, top, width: 12, height: 234 });
    const cxi = xAxis.length, cyi = yAxis.length;
    xAxis.push({ gridIndex: cg, type: "value", min: 0, max: 1, show: false });
    yAxis.push({
      gridIndex: cg, type: "value", min: -colorMax, max: colorMax, position: "right",
      name: "deviation", nameLocation: "middle", nameGap: 31, nameRotate: 90, nameTextStyle: text,
      axisLine: { show: false }, splitLine: { show: false },
      axisTick: { show: true, length: 3, customValues: colorbarTicks, lineStyle: { color: "#444", width: 0.7 } },
      axisLabel: {
        ...text, margin: 5, customValues: colorbarTicks,
        formatter: (v: number) => (Math.abs(v) < 1e-9 ? "0.0" : v < 0 ? "−" + Math.abs(v).toFixed(1) : v.toFixed(1)),
      },
    });
    const stops = colorStops.map(([v, c]) => ({ offset: (colorMax - v) / (2 * colorMax), color: `rgb(${c.join(",")})` })).reverse();
    series.push({
      type: "custom", xAxisIndex: cxi, yAxisIndex: cyi, silent: true, clip: false, z: 2, data: [[0, -colorMax, 1, colorMax]],
      renderItem: (_: any, api: any) => {
        const a = api.coord([api.value(0), api.value(1)]);
        const b = api.coord([api.value(2), api.value(3)]);
        return {
          type: "rect", shape: { x: a[0], y: b[1], width: b[0] - a[0], height: a[1] - b[1] },
          style: { fill: new echarts.graphic.LinearGradient(0, 0, 0, 1, stops), stroke: EDGE, lineWidth: 1 },
        };
      },
    });
  });
  return { animation: false, backgroundColor: "#fff", grid, xAxis, yAxis, series };
}

export default function App() {
  const ref = useRef<HTMLDivElement>(null);
  useEffect(() => {
    document.body.style.margin = "0";
    const chart = echarts.init(ref.current!, undefined, { renderer: "svg" });
    chart.setOption(buildOption());
    return () => chart.dispose();
  }, []);
  return <div ref={ref} style={{ width: 1199, height: 1197 }} />;
}
